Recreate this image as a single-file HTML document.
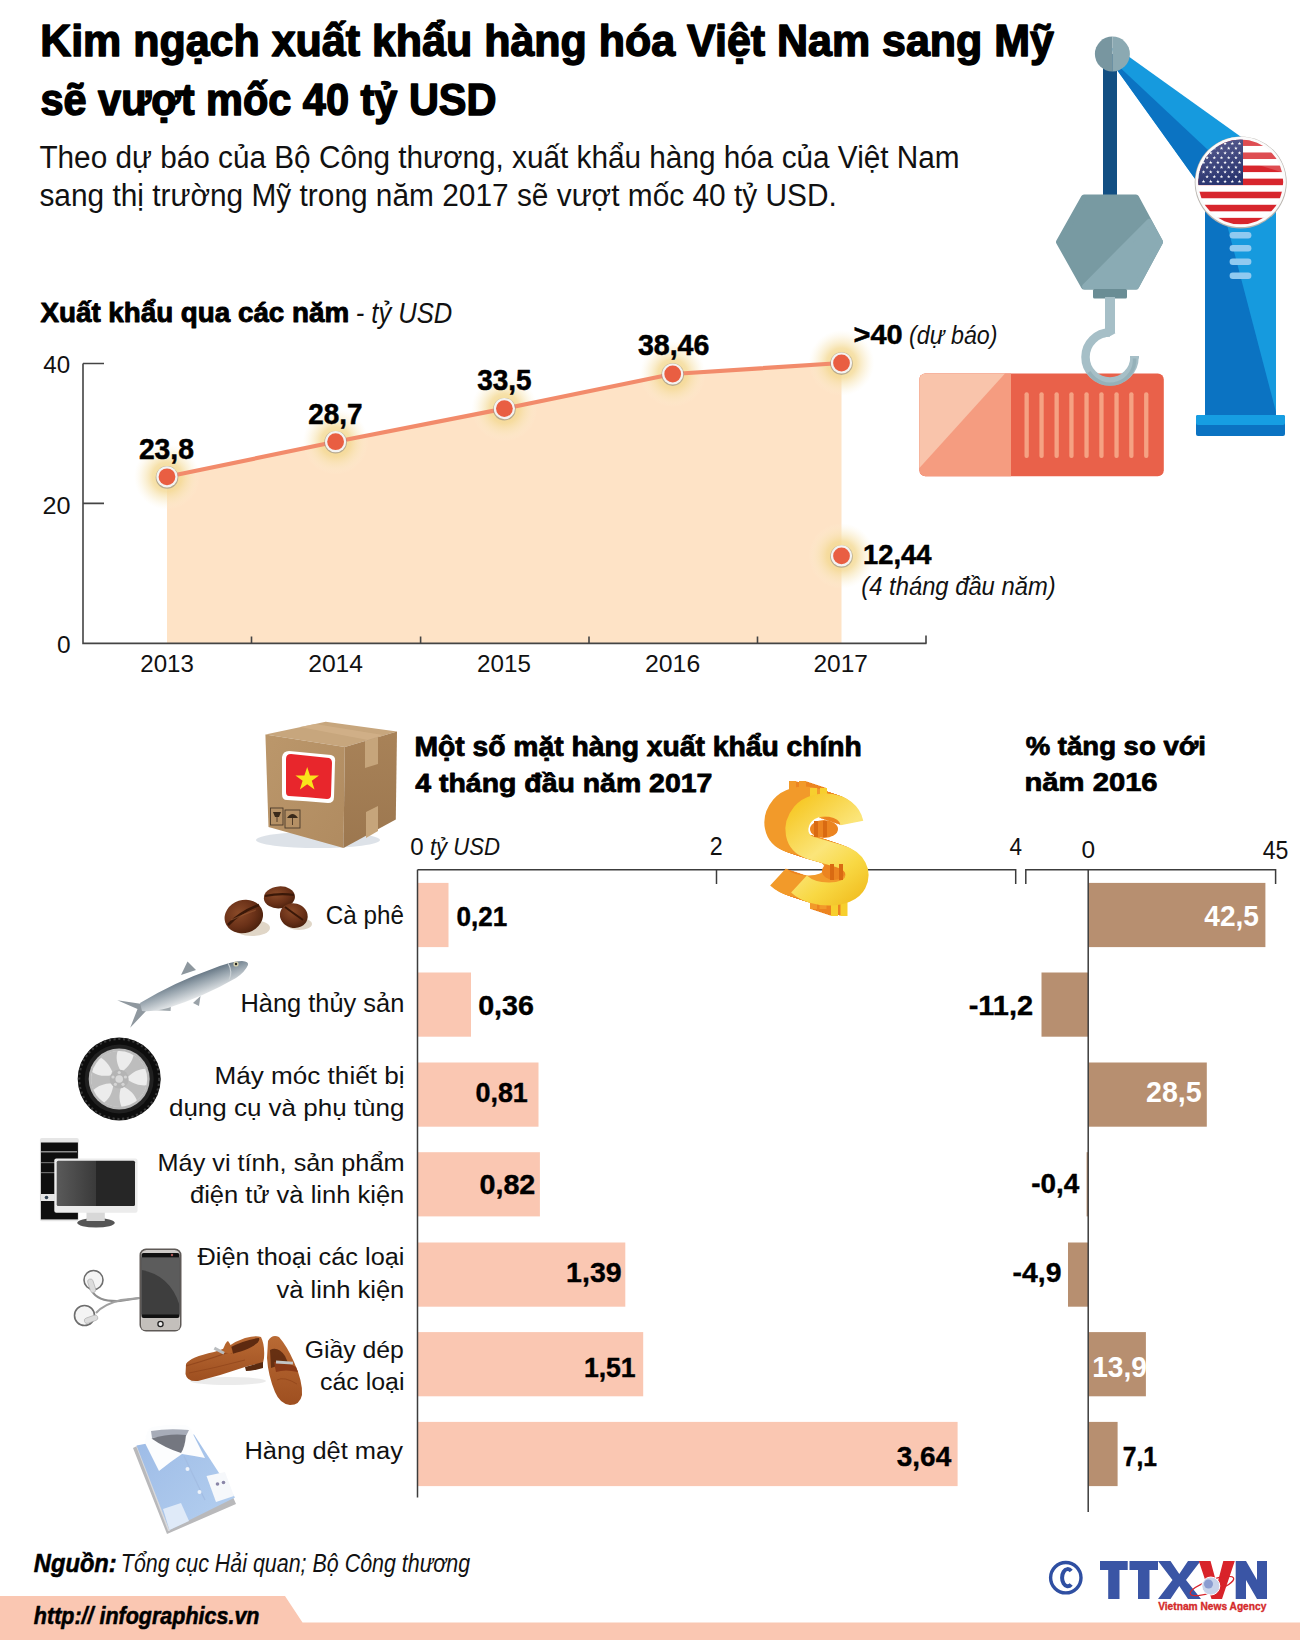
<!DOCTYPE html>
<html><head><meta charset="utf-8"><title>Infographic</title>
<style>
html,body{margin:0;padding:0;background:#fff;}
body{width:1300px;height:1640px;overflow:hidden;position:relative;font-family:"Liberation Sans",sans-serif;}
svg{position:absolute;left:0;top:0;display:block;}
text{font-family:"Liberation Sans",sans-serif;white-space:pre;}
</style></head><body>
<svg width="1300" height="1640" viewBox="0 0 1300 1640">
<defs>
<radialGradient id="glow" cx="0.5" cy="0.5" r="0.5">
 <stop offset="0" stop-color="#f2d47f" stop-opacity="0.95"/>
 <stop offset="0.45" stop-color="#f4da96" stop-opacity="0.8"/>
 <stop offset="0.75" stop-color="#f8e7bb" stop-opacity="0.4"/>
 <stop offset="1" stop-color="#fcf3dc" stop-opacity="0"/>
</radialGradient>
<clipPath id="flagclip"><circle cx="1240.7" cy="181.9" r="42.5"/></clipPath>
<linearGradient id="dollarG" x1="0" y1="0" x2="1" y2="1">
 <stop offset="0" stop-color="#f7c81e"/>
 <stop offset="0.5" stop-color="#fbe77a"/>
 <stop offset="1" stop-color="#f3c524"/>
</linearGradient>
<linearGradient id="fishG" x1="0" y1="0" x2="0" y2="1">
 <stop offset="0" stop-color="#4f6475"/>
 <stop offset="0.5" stop-color="#a9b4bc"/>
 <stop offset="1" stop-color="#e2e5e7"/>
</linearGradient>
<linearGradient id="screenG" x1="0" y1="0" x2="1" y2="0">
 <stop offset="0" stop-color="#5a5a5a"/>
 <stop offset="0.5" stop-color="#3a3a3a"/>
 <stop offset="0.5" stop-color="#262626"/>
 <stop offset="1" stop-color="#262626"/>
</linearGradient>
<linearGradient id="cantonG" x1="0" y1="0" x2="0.3" y2="1">
 <stop offset="0" stop-color="#5c5f92"/>
 <stop offset="1" stop-color="#2b3670"/>
</linearGradient>
</defs>

<polygon points="167.0,476.8 335.6,441.7 504.4,408.6 672.7,374.0 841.5,363.0 841.5,643.4 167,643.4" fill="#fee3c6"/>
<g stroke="#444" stroke-width="1.6" fill="none">
 <path d="M83,363.5 V643.4 H926.5"/>
 <path d="M83,363.5 H104 M83,503.4 H104"/>
 <path d="M251.5,643.4 V636.5 M420.6,643.4 V636.5 M589,643.4 V636.5 M757.5,643.4 V636.5 M926,643.4 V635.5"/>
</g>
<circle cx="167.0" cy="476.8" r="33" fill="url(#glow)"/><circle cx="335.6" cy="441.7" r="33" fill="url(#glow)"/><circle cx="504.4" cy="408.6" r="33" fill="url(#glow)"/><circle cx="672.7" cy="374.0" r="33" fill="url(#glow)"/><circle cx="841.5" cy="363.0" r="33" fill="url(#glow)"/><circle cx="841.5" cy="555.9" r="33" fill="url(#glow)"/>
<path d="M167.0,476.8 L335.6,441.7 L504.4,408.6 L672.7,374.0 L841.5,363.0" stroke="#f28b6b" stroke-width="4.2" fill="none" stroke-linejoin="round"/>
<circle cx="167.0" cy="477.40000000000003" r="11.3" fill="#8f8a86" opacity="0.6"/><circle cx="167.0" cy="476.8" r="10.6" fill="#f4f3f1"/><circle cx="167.0" cy="476.8" r="8.4" fill="#e95e42"/><circle cx="335.6" cy="442.3" r="11.3" fill="#8f8a86" opacity="0.6"/><circle cx="335.6" cy="441.7" r="10.6" fill="#f4f3f1"/><circle cx="335.6" cy="441.7" r="8.4" fill="#e95e42"/><circle cx="504.4" cy="409.20000000000005" r="11.3" fill="#8f8a86" opacity="0.6"/><circle cx="504.4" cy="408.6" r="10.6" fill="#f4f3f1"/><circle cx="504.4" cy="408.6" r="8.4" fill="#e95e42"/><circle cx="672.7" cy="374.6" r="11.3" fill="#8f8a86" opacity="0.6"/><circle cx="672.7" cy="374.0" r="10.6" fill="#f4f3f1"/><circle cx="672.7" cy="374.0" r="8.4" fill="#e95e42"/><circle cx="841.5" cy="363.6" r="11.3" fill="#8f8a86" opacity="0.6"/><circle cx="841.5" cy="363.0" r="10.6" fill="#f4f3f1"/><circle cx="841.5" cy="363.0" r="8.4" fill="#e95e42"/><circle cx="841.5" cy="556.5" r="11.3" fill="#8f8a86" opacity="0.6"/><circle cx="841.5" cy="555.9" r="10.6" fill="#f4f3f1"/><circle cx="841.5" cy="555.9" r="8.4" fill="#e95e42"/>

<!-- boom -->
<polygon points="1112,48 1128,56 1244,139 1198,183 1117,70" fill="#169ade"/>
<polygon points="1112,60 1208,150 1198,183 1117,70" fill="#0b73c2"/>
<!-- pole -->
<rect x="1103" y="54" width="14" height="143" fill="#124f83"/>
<!-- pivot -->
<path d="M1112.4,36.5 A17.5,17.5 0 0 0 1112.4,71.5 Z" fill="#7896a0"/>
<path d="M1112.4,36.5 A17.5,17.5 0 0 1 1112.4,71.5 Z" fill="#8ba9b2"/>
<!-- column -->
<rect x="1205" y="175" width="71" height="241" fill="#0b73c2"/>
<polygon points="1214,175 1276,175 1276,412" fill="#169ade"/>
<g fill="#90caf0">
 <rect x="1229.6" y="232" width="21.8" height="6.4" rx="3.2"/>
 <rect x="1229.6" y="245" width="21.8" height="6.4" rx="3.2"/>
 <rect x="1229.6" y="258.5" width="21.8" height="6.4" rx="3.2"/>
 <rect x="1229.6" y="272.5" width="21.8" height="6.4" rx="3.2"/>
</g>
<rect x="1196" y="415" width="89" height="21" rx="2" fill="#0b73c2"/>
<rect x="1196" y="415" width="89" height="10" rx="2" fill="#169ee2"/>
<!-- flag -->
<circle cx="1240.7" cy="182.4" r="46" fill="#b9b4ae"/>
<circle cx="1240.7" cy="181.9" r="45.2" fill="#fbfbfb"/>
<g clip-path="url(#flagclip)">
 <rect x="1196" y="139" width="90" height="86" fill="#fff"/>
 <rect x="1196" y="139.40" width="90" height="6.54" fill="#d7262d"/><rect x="1196" y="152.48" width="90" height="6.54" fill="#d7262d"/><rect x="1196" y="165.55" width="90" height="6.54" fill="#d7262d"/><rect x="1196" y="178.63" width="90" height="6.54" fill="#d7262d"/><rect x="1196" y="191.71" width="90" height="6.54" fill="#d7262d"/><rect x="1196" y="204.78" width="90" height="6.54" fill="#d7262d"/><rect x="1196" y="217.86" width="90" height="6.54" fill="#d7262d"/>
 <rect x="1196" y="139" width="47" height="46" fill="url(#cantonG)"/>
 <polygon points="1203.50,141.60 1203.95,142.89 1205.31,142.91 1204.22,143.73 1204.62,145.04 1203.50,144.26 1202.38,145.04 1202.78,143.73 1201.69,142.91 1203.05,142.89" fill="#fff"/><polygon points="1210.70,141.60 1211.15,142.89 1212.51,142.91 1211.42,143.73 1211.82,145.04 1210.70,144.26 1209.58,145.04 1209.98,143.73 1208.89,142.91 1210.25,142.89" fill="#fff"/><polygon points="1217.90,141.60 1218.35,142.89 1219.71,142.91 1218.62,143.73 1219.02,145.04 1217.90,144.26 1216.78,145.04 1217.18,143.73 1216.09,142.91 1217.45,142.89" fill="#fff"/><polygon points="1225.10,141.60 1225.55,142.89 1226.91,142.91 1225.82,143.73 1226.22,145.04 1225.10,144.26 1223.98,145.04 1224.38,143.73 1223.29,142.91 1224.65,142.89" fill="#fff"/><polygon points="1232.30,141.60 1232.75,142.89 1234.11,142.91 1233.02,143.73 1233.42,145.04 1232.30,144.26 1231.18,145.04 1231.58,143.73 1230.49,142.91 1231.85,142.89" fill="#fff"/><polygon points="1239.50,141.60 1239.95,142.89 1241.31,142.91 1240.22,143.73 1240.62,145.04 1239.50,144.26 1238.38,145.04 1238.78,143.73 1237.69,142.91 1239.05,142.89" fill="#fff"/><polygon points="1207.10,146.35 1207.55,147.64 1208.91,147.66 1207.82,148.48 1208.22,149.79 1207.10,149.01 1205.98,149.79 1206.38,148.48 1205.29,147.66 1206.65,147.64" fill="#fff"/><polygon points="1214.30,146.35 1214.75,147.64 1216.11,147.66 1215.02,148.48 1215.42,149.79 1214.30,149.01 1213.18,149.79 1213.58,148.48 1212.49,147.66 1213.85,147.64" fill="#fff"/><polygon points="1221.50,146.35 1221.95,147.64 1223.31,147.66 1222.22,148.48 1222.62,149.79 1221.50,149.01 1220.38,149.79 1220.78,148.48 1219.69,147.66 1221.05,147.64" fill="#fff"/><polygon points="1228.70,146.35 1229.15,147.64 1230.51,147.66 1229.42,148.48 1229.82,149.79 1228.70,149.01 1227.58,149.79 1227.98,148.48 1226.89,147.66 1228.25,147.64" fill="#fff"/><polygon points="1235.90,146.35 1236.35,147.64 1237.71,147.66 1236.62,148.48 1237.02,149.79 1235.90,149.01 1234.78,149.79 1235.18,148.48 1234.09,147.66 1235.45,147.64" fill="#fff"/><polygon points="1203.50,151.10 1203.95,152.39 1205.31,152.41 1204.22,153.23 1204.62,154.54 1203.50,153.76 1202.38,154.54 1202.78,153.23 1201.69,152.41 1203.05,152.39" fill="#fff"/><polygon points="1210.70,151.10 1211.15,152.39 1212.51,152.41 1211.42,153.23 1211.82,154.54 1210.70,153.76 1209.58,154.54 1209.98,153.23 1208.89,152.41 1210.25,152.39" fill="#fff"/><polygon points="1217.90,151.10 1218.35,152.39 1219.71,152.41 1218.62,153.23 1219.02,154.54 1217.90,153.76 1216.78,154.54 1217.18,153.23 1216.09,152.41 1217.45,152.39" fill="#fff"/><polygon points="1225.10,151.10 1225.55,152.39 1226.91,152.41 1225.82,153.23 1226.22,154.54 1225.10,153.76 1223.98,154.54 1224.38,153.23 1223.29,152.41 1224.65,152.39" fill="#fff"/><polygon points="1232.30,151.10 1232.75,152.39 1234.11,152.41 1233.02,153.23 1233.42,154.54 1232.30,153.76 1231.18,154.54 1231.58,153.23 1230.49,152.41 1231.85,152.39" fill="#fff"/><polygon points="1239.50,151.10 1239.95,152.39 1241.31,152.41 1240.22,153.23 1240.62,154.54 1239.50,153.76 1238.38,154.54 1238.78,153.23 1237.69,152.41 1239.05,152.39" fill="#fff"/><polygon points="1207.10,155.85 1207.55,157.14 1208.91,157.16 1207.82,157.98 1208.22,159.29 1207.10,158.51 1205.98,159.29 1206.38,157.98 1205.29,157.16 1206.65,157.14" fill="#fff"/><polygon points="1214.30,155.85 1214.75,157.14 1216.11,157.16 1215.02,157.98 1215.42,159.29 1214.30,158.51 1213.18,159.29 1213.58,157.98 1212.49,157.16 1213.85,157.14" fill="#fff"/><polygon points="1221.50,155.85 1221.95,157.14 1223.31,157.16 1222.22,157.98 1222.62,159.29 1221.50,158.51 1220.38,159.29 1220.78,157.98 1219.69,157.16 1221.05,157.14" fill="#fff"/><polygon points="1228.70,155.85 1229.15,157.14 1230.51,157.16 1229.42,157.98 1229.82,159.29 1228.70,158.51 1227.58,159.29 1227.98,157.98 1226.89,157.16 1228.25,157.14" fill="#fff"/><polygon points="1235.90,155.85 1236.35,157.14 1237.71,157.16 1236.62,157.98 1237.02,159.29 1235.90,158.51 1234.78,159.29 1235.18,157.98 1234.09,157.16 1235.45,157.14" fill="#fff"/><polygon points="1203.50,160.60 1203.95,161.89 1205.31,161.91 1204.22,162.73 1204.62,164.04 1203.50,163.26 1202.38,164.04 1202.78,162.73 1201.69,161.91 1203.05,161.89" fill="#fff"/><polygon points="1210.70,160.60 1211.15,161.89 1212.51,161.91 1211.42,162.73 1211.82,164.04 1210.70,163.26 1209.58,164.04 1209.98,162.73 1208.89,161.91 1210.25,161.89" fill="#fff"/><polygon points="1217.90,160.60 1218.35,161.89 1219.71,161.91 1218.62,162.73 1219.02,164.04 1217.90,163.26 1216.78,164.04 1217.18,162.73 1216.09,161.91 1217.45,161.89" fill="#fff"/><polygon points="1225.10,160.60 1225.55,161.89 1226.91,161.91 1225.82,162.73 1226.22,164.04 1225.10,163.26 1223.98,164.04 1224.38,162.73 1223.29,161.91 1224.65,161.89" fill="#fff"/><polygon points="1232.30,160.60 1232.75,161.89 1234.11,161.91 1233.02,162.73 1233.42,164.04 1232.30,163.26 1231.18,164.04 1231.58,162.73 1230.49,161.91 1231.85,161.89" fill="#fff"/><polygon points="1239.50,160.60 1239.95,161.89 1241.31,161.91 1240.22,162.73 1240.62,164.04 1239.50,163.26 1238.38,164.04 1238.78,162.73 1237.69,161.91 1239.05,161.89" fill="#fff"/><polygon points="1207.10,165.35 1207.55,166.64 1208.91,166.66 1207.82,167.48 1208.22,168.79 1207.10,168.01 1205.98,168.79 1206.38,167.48 1205.29,166.66 1206.65,166.64" fill="#fff"/><polygon points="1214.30,165.35 1214.75,166.64 1216.11,166.66 1215.02,167.48 1215.42,168.79 1214.30,168.01 1213.18,168.79 1213.58,167.48 1212.49,166.66 1213.85,166.64" fill="#fff"/><polygon points="1221.50,165.35 1221.95,166.64 1223.31,166.66 1222.22,167.48 1222.62,168.79 1221.50,168.01 1220.38,168.79 1220.78,167.48 1219.69,166.66 1221.05,166.64" fill="#fff"/><polygon points="1228.70,165.35 1229.15,166.64 1230.51,166.66 1229.42,167.48 1229.82,168.79 1228.70,168.01 1227.58,168.79 1227.98,167.48 1226.89,166.66 1228.25,166.64" fill="#fff"/><polygon points="1235.90,165.35 1236.35,166.64 1237.71,166.66 1236.62,167.48 1237.02,168.79 1235.90,168.01 1234.78,168.79 1235.18,167.48 1234.09,166.66 1235.45,166.64" fill="#fff"/><polygon points="1203.50,170.10 1203.95,171.39 1205.31,171.41 1204.22,172.23 1204.62,173.54 1203.50,172.76 1202.38,173.54 1202.78,172.23 1201.69,171.41 1203.05,171.39" fill="#fff"/><polygon points="1210.70,170.10 1211.15,171.39 1212.51,171.41 1211.42,172.23 1211.82,173.54 1210.70,172.76 1209.58,173.54 1209.98,172.23 1208.89,171.41 1210.25,171.39" fill="#fff"/><polygon points="1217.90,170.10 1218.35,171.39 1219.71,171.41 1218.62,172.23 1219.02,173.54 1217.90,172.76 1216.78,173.54 1217.18,172.23 1216.09,171.41 1217.45,171.39" fill="#fff"/><polygon points="1225.10,170.10 1225.55,171.39 1226.91,171.41 1225.82,172.23 1226.22,173.54 1225.10,172.76 1223.98,173.54 1224.38,172.23 1223.29,171.41 1224.65,171.39" fill="#fff"/><polygon points="1232.30,170.10 1232.75,171.39 1234.11,171.41 1233.02,172.23 1233.42,173.54 1232.30,172.76 1231.18,173.54 1231.58,172.23 1230.49,171.41 1231.85,171.39" fill="#fff"/><polygon points="1239.50,170.10 1239.95,171.39 1241.31,171.41 1240.22,172.23 1240.62,173.54 1239.50,172.76 1238.38,173.54 1238.78,172.23 1237.69,171.41 1239.05,171.39" fill="#fff"/><polygon points="1207.10,174.85 1207.55,176.14 1208.91,176.16 1207.82,176.98 1208.22,178.29 1207.10,177.51 1205.98,178.29 1206.38,176.98 1205.29,176.16 1206.65,176.14" fill="#fff"/><polygon points="1214.30,174.85 1214.75,176.14 1216.11,176.16 1215.02,176.98 1215.42,178.29 1214.30,177.51 1213.18,178.29 1213.58,176.98 1212.49,176.16 1213.85,176.14" fill="#fff"/><polygon points="1221.50,174.85 1221.95,176.14 1223.31,176.16 1222.22,176.98 1222.62,178.29 1221.50,177.51 1220.38,178.29 1220.78,176.98 1219.69,176.16 1221.05,176.14" fill="#fff"/><polygon points="1228.70,174.85 1229.15,176.14 1230.51,176.16 1229.42,176.98 1229.82,178.29 1228.70,177.51 1227.58,178.29 1227.98,176.98 1226.89,176.16 1228.25,176.14" fill="#fff"/><polygon points="1235.90,174.85 1236.35,176.14 1237.71,176.16 1236.62,176.98 1237.02,178.29 1235.90,177.51 1234.78,178.29 1235.18,176.98 1234.09,176.16 1235.45,176.14" fill="#fff"/><polygon points="1203.50,179.60 1203.95,180.89 1205.31,180.91 1204.22,181.73 1204.62,183.04 1203.50,182.26 1202.38,183.04 1202.78,181.73 1201.69,180.91 1203.05,180.89" fill="#fff"/><polygon points="1210.70,179.60 1211.15,180.89 1212.51,180.91 1211.42,181.73 1211.82,183.04 1210.70,182.26 1209.58,183.04 1209.98,181.73 1208.89,180.91 1210.25,180.89" fill="#fff"/><polygon points="1217.90,179.60 1218.35,180.89 1219.71,180.91 1218.62,181.73 1219.02,183.04 1217.90,182.26 1216.78,183.04 1217.18,181.73 1216.09,180.91 1217.45,180.89" fill="#fff"/><polygon points="1225.10,179.60 1225.55,180.89 1226.91,180.91 1225.82,181.73 1226.22,183.04 1225.10,182.26 1223.98,183.04 1224.38,181.73 1223.29,180.91 1224.65,180.89" fill="#fff"/><polygon points="1232.30,179.60 1232.75,180.89 1234.11,180.91 1233.02,181.73 1233.42,183.04 1232.30,182.26 1231.18,183.04 1231.58,181.73 1230.49,180.91 1231.85,180.89" fill="#fff"/><polygon points="1239.50,179.60 1239.95,180.89 1241.31,180.91 1240.22,181.73 1240.62,183.04 1239.50,182.26 1238.38,183.04 1238.78,181.73 1237.69,180.91 1239.05,180.89" fill="#fff"/>
 <polygon points="1243,139 1290,139 1290,175 1243,160" fill="#fff" opacity="0.18"/>
</g>
<!-- hexagon block -->
<polygon points="1084,197.5 1136,197.5 1160,242 1136,286.5 1084,286.5 1059,242" fill="#789aa2" stroke="#789aa2" stroke-width="6" stroke-linejoin="round"/>
<polygon points="1085,286.5 1149,222 1160,242 1136,286.5" fill="#8aabb4" stroke="#8aabb4" stroke-width="6" stroke-linejoin="round"/>
<rect x="1093" y="289" width="34" height="9.5" rx="1.5" fill="#6a8d95"/>
<!-- container -->
<rect x="919.4" y="373.4" width="244.4" height="102.9" rx="6" fill="#e9614a"/>
<path d="M1011,373.4 H925.4 A6,6 0 0 0 919.4,379.4 V470.3 A6,6 0 0 0 925.4,476.3 H1011 Z" fill="#f59c80"/>
<path d="M1005,373.4 H925.4 A6,6 0 0 0 919.4,379.4 V468 Z" fill="#f9c4ab"/>
<rect x="1024.5" y="392.3" width="4.3" height="65.7" rx="2" fill="#f5a283"/><rect x="1039.4" y="392.3" width="4.3" height="65.7" rx="2" fill="#f5a283"/><rect x="1054.5" y="392.3" width="4.3" height="65.7" rx="2" fill="#f5a283"/><rect x="1069.3" y="392.3" width="4.3" height="65.7" rx="2" fill="#f5a283"/><rect x="1084.4" y="392.3" width="4.3" height="65.7" rx="2" fill="#f5a283"/><rect x="1099.3" y="392.3" width="4.3" height="65.7" rx="2" fill="#f5a283"/><rect x="1114.4" y="392.3" width="4.3" height="65.7" rx="2" fill="#f5a283"/><rect x="1129.2" y="392.3" width="4.3" height="65.7" rx="2" fill="#f5a283"/><rect x="1144.1" y="392.3" width="4.3" height="65.7" rx="2" fill="#f5a283"/>
<!-- hook -->
<rect x="1105" y="297" width="10" height="36" fill="#a6bfc7"/>
<path d="M1113,330 Q1109,333 1104,333.5" stroke="#a6bfc7" stroke-width="8" fill="none"/>
<path d="M1110,332.5 A24.5,24.5 0 1 0 1134.5,357" stroke="#a6bfc7" stroke-width="8.5" fill="none"/>
<path d="M1089,372 A24.5,24.5 0 0 0 1134.5,357" stroke="#8eabb4" stroke-width="3.5" fill="none" opacity="0.7"/>
<rect x="1130" y="356" width="9" height="2.5" fill="#a6bfc7"/>

<rect x="417.5" y="882.9" width="31.0" height="64.2" fill="#fac7b2"/><rect x="417.5" y="972.5" width="53.5" height="64.2" fill="#fac7b2"/><rect x="417.5" y="1062.5" width="121.0" height="64.2" fill="#fac7b2"/><rect x="417.5" y="1152.2" width="122.4" height="64.2" fill="#fac7b2"/><rect x="417.5" y="1242.5" width="207.8" height="64.2" fill="#fac7b2"/><rect x="417.5" y="1332.1" width="225.7" height="64.2" fill="#fac7b2"/><rect x="417.5" y="1421.9" width="540.1" height="64.2" fill="#fac7b2"/><rect x="1088.2" y="882.9" width="177.2" height="64.2" fill="#b78f70"/><rect x="1041.5" y="972.5" width="46.7" height="64.2" fill="#b78f70"/><rect x="1088.2" y="1062.5" width="118.6" height="64.2" fill="#b78f70"/><rect x="1086.6" y="1152.2" width="1.6" height="64.2" fill="#b78f70"/><rect x="1068" y="1242.5" width="20.2" height="64.2" fill="#b78f70"/><rect x="1088.2" y="1332.1" width="57.7" height="64.2" fill="#b78f70"/><rect x="1088.2" y="1421.9" width="29.4" height="64.2" fill="#b78f70"/>
<g stroke="#3c3c3c" stroke-width="1.5" fill="none">
 <path d="M417.5,869.7 H1015.7 V884"/>
 <path d="M417.5,869.7 V1497.5"/>
 <path d="M716.5,869.7 V884"/>
 <path d="M1025.8,884 V869.7 H1275.6 V884"/>
 <path d="M1088.2,869.7 V1512"/>
</g>

<polygon points="0,1596 285,1596 302.5,1622.5 1300,1622.5 1300,1640 0,1640" fill="#fac7b2"/>
<circle cx="1065.8" cy="1577.7" r="15.2" stroke="#2f4fa2" stroke-width="3.4" fill="none"/>
<path d="M1071.2,1571 A5.6,8.6 0 1 0 1071.2,1584.4" stroke="#2f4fa2" stroke-width="4" fill="none"/>

<linearGradient id="boxFront" x1="0" y1="0" x2="1" y2="1">
 <stop offset="0" stop-color="#bb976b"/>
 <stop offset="1" stop-color="#b08b60"/>
</linearGradient>
<linearGradient id="boxRight" x1="0" y1="0" x2="0" y2="1">
 <stop offset="0" stop-color="#a88258"/>
 <stop offset="1" stop-color="#9c774f"/>
</linearGradient>
<ellipse cx="318" cy="840" rx="62" ry="8" fill="#cfd6de" opacity="0.7"/>
<polygon points="265.4,734.6 325.7,721.7 397,731.5 344.8,747" fill="#c7a67d"/>
<polygon points="300,727 315,724 383,735 368,740" fill="#d2b28a" opacity="0.8"/>
<polygon points="265.4,734.6 344.8,747 343.5,848 268.5,827" fill="url(#boxFront)"/>
<polygon points="344.8,747 397,731.5 395.8,819.5 343.5,848" fill="url(#boxRight)"/>
<polygon points="365,741 378,737 378,764 365,768" fill="#c6a57b"/>
<polygon points="366,812 378,806 378,831 366,838" fill="#c6a57b"/>
<path d="M289,751 Q310,753 331,755 Q336,756 335,762 L334,797 Q334,803 328,803 Q306,801 287,800 Q282,800 282,794 L282,757 Q283,751 289,751 Z" fill="#fff"/>
<path d="M291,754 Q310,756 329,758 Q332,759 332,763 L331,795 Q331,799 327,799 Q307,797 289,796 Q286,796 286,792 L286,759 Q286,754 291,754 Z" fill="#e8262c"/>
<polygon points="307.2,767 310,775.5 319,775.5 311.8,780.8 314.5,789.5 307.2,784.2 299.9,789.5 302.6,780.8 295.4,775.5 304.4,775.5" fill="#f9e31b"/>
<rect x="270.5" y="808" width="12.5" height="17" fill="none" stroke="#4a3a2a" stroke-width="0.9"/>
<rect x="285" y="810" width="15" height="18" fill="none" stroke="#4a3a2a" stroke-width="0.9"/>
<path d="M287,818 Q292.5,810 298,818 Z" fill="#3a2a1a"/>
<path d="M292.5,818 V825" stroke="#3a2a1a" stroke-width="0.8"/>
<path d="M273,812 h8 l-2,5 h-4 z" fill="#3a2a1a"/>
<path d="M277,817 V822" stroke="#3a2a1a" stroke-width="0.8"/>

<linearGradient id="dollarG2" gradientUnits="userSpaceOnUse" x1="790" y1="800" x2="870" y2="900">
 <stop offset="0" stop-color="#f6c51c"/>
 <stop offset="0.45" stop-color="#fbe57a"/>
 <stop offset="0.7" stop-color="#f8d843"/>
 <stop offset="1" stop-color="#f0b91a"/>
</linearGradient>
<g>
<g transform="translate(-1.5 -0.5)"><path d="M852,823 C848,803 816,799 803,814 C793,826 795,843 811,848 L839,856 C856,861 860,873 855,883 C848,897 814,898 799,884" stroke="#ec8420" stroke-width="23" fill="none"/><path d="M813.5,788 L813.5,808 M823.5,788 L823.5,808 M834.5,896 L834.5,916 M844,896 L844,916" stroke="#ec8420" stroke-width="7" fill="none"/></g><g transform="translate(-3.0 -1.0)"><path d="M852,823 C848,803 816,799 803,814 C793,826 795,843 811,848 L839,856 C856,861 860,873 855,883 C848,897 814,898 799,884" stroke="#ec8420" stroke-width="23" fill="none"/><path d="M813.5,788 L813.5,808 M823.5,788 L823.5,808 M834.5,896 L834.5,916 M844,896 L844,916" stroke="#ec8420" stroke-width="7" fill="none"/></g><g transform="translate(-4.5 -1.5)"><path d="M852,823 C848,803 816,799 803,814 C793,826 795,843 811,848 L839,856 C856,861 860,873 855,883 C848,897 814,898 799,884" stroke="#ec8420" stroke-width="23" fill="none"/><path d="M813.5,788 L813.5,808 M823.5,788 L823.5,808 M834.5,896 L834.5,916 M844,896 L844,916" stroke="#ec8420" stroke-width="7" fill="none"/></g><g transform="translate(-6.0 -2.0)"><path d="M852,823 C848,803 816,799 803,814 C793,826 795,843 811,848 L839,856 C856,861 860,873 855,883 C848,897 814,898 799,884" stroke="#ec8420" stroke-width="23" fill="none"/><path d="M813.5,788 L813.5,808 M823.5,788 L823.5,808 M834.5,896 L834.5,916 M844,896 L844,916" stroke="#ec8420" stroke-width="7" fill="none"/></g><g transform="translate(-7.5 -2.5)"><path d="M852,823 C848,803 816,799 803,814 C793,826 795,843 811,848 L839,856 C856,861 860,873 855,883 C848,897 814,898 799,884" stroke="#ec8420" stroke-width="23" fill="none"/><path d="M813.5,788 L813.5,808 M823.5,788 L823.5,808 M834.5,896 L834.5,916 M844,896 L844,916" stroke="#ec8420" stroke-width="7" fill="none"/></g><g transform="translate(-9.0 -3.0)"><path d="M852,823 C848,803 816,799 803,814 C793,826 795,843 811,848 L839,856 C856,861 860,873 855,883 C848,897 814,898 799,884" stroke="#ec8420" stroke-width="23" fill="none"/><path d="M813.5,788 L813.5,808 M823.5,788 L823.5,808 M834.5,896 L834.5,916 M844,896 L844,916" stroke="#ec8420" stroke-width="7" fill="none"/></g><g transform="translate(-10.5 -3.5)"><path d="M852,823 C848,803 816,799 803,814 C793,826 795,843 811,848 L839,856 C856,861 860,873 855,883 C848,897 814,898 799,884" stroke="#ec8420" stroke-width="23" fill="none"/><path d="M813.5,788 L813.5,808 M823.5,788 L823.5,808 M834.5,896 L834.5,916 M844,896 L844,916" stroke="#ec8420" stroke-width="7" fill="none"/></g><g transform="translate(-12.0 -4.0)"><path d="M852,823 C848,803 816,799 803,814 C793,826 795,843 811,848 L839,856 C856,861 860,873 855,883 C848,897 814,898 799,884" stroke="#ec8420" stroke-width="23" fill="none"/><path d="M813.5,788 L813.5,808 M823.5,788 L823.5,808 M834.5,896 L834.5,916 M844,896 L844,916" stroke="#ec8420" stroke-width="7" fill="none"/></g><g transform="translate(-13.5 -4.5)"><path d="M852,823 C848,803 816,799 803,814 C793,826 795,843 811,848 L839,856 C856,861 860,873 855,883 C848,897 814,898 799,884" stroke="#ec8420" stroke-width="23" fill="none"/><path d="M813.5,788 L813.5,808 M823.5,788 L823.5,808 M834.5,896 L834.5,916 M844,896 L844,916" stroke="#ec8420" stroke-width="7" fill="none"/></g><g transform="translate(-15.0 -5.0)"><path d="M852,823 C848,803 816,799 803,814 C793,826 795,843 811,848 L839,856 C856,861 860,873 855,883 C848,897 814,898 799,884" stroke="#ec8420" stroke-width="23" fill="none"/><path d="M813.5,788 L813.5,808 M823.5,788 L823.5,808 M834.5,896 L834.5,916 M844,896 L844,916" stroke="#ec8420" stroke-width="7" fill="none"/></g><g transform="translate(-16.5 -5.5)"><path d="M852,823 C848,803 816,799 803,814 C793,826 795,843 811,848 L839,856 C856,861 860,873 855,883 C848,897 814,898 799,884" stroke="#ec8420" stroke-width="23" fill="none"/><path d="M813.5,788 L813.5,808 M823.5,788 L823.5,808 M834.5,896 L834.5,916 M844,896 L844,916" stroke="#ec8420" stroke-width="7" fill="none"/></g><g transform="translate(-18.0 -6.0)"><path d="M852,823 C848,803 816,799 803,814 C793,826 795,843 811,848 L839,856 C856,861 860,873 855,883 C848,897 814,898 799,884" stroke="#ec8420" stroke-width="23" fill="none"/><path d="M813.5,788 L813.5,808 M823.5,788 L823.5,808 M834.5,896 L834.5,916 M844,896 L844,916" stroke="#ec8420" stroke-width="7" fill="none"/></g><g transform="translate(-19.5 -6.5)"><path d="M852,823 C848,803 816,799 803,814 C793,826 795,843 811,848 L839,856 C856,861 860,873 855,883 C848,897 814,898 799,884" stroke="#ec8420" stroke-width="23" fill="none"/><path d="M813.5,788 L813.5,808 M823.5,788 L823.5,808 M834.5,896 L834.5,916 M844,896 L844,916" stroke="#ec8420" stroke-width="7" fill="none"/></g><g transform="translate(-21.0 -7.0)"><path d="M852,823 C848,803 816,799 803,814 C793,826 795,843 811,848 L839,856 C856,861 860,873 855,883 C848,897 814,898 799,884" stroke="#f29a2a" stroke-width="23" fill="none"/><path d="M813.5,788 L813.5,808 M823.5,788 L823.5,808 M834.5,896 L834.5,916 M844,896 L844,916" stroke="#f29a2a" stroke-width="7" fill="none"/></g>
<path d="M813.5,788 L813.5,808 M823.5,788 L823.5,808 M834.5,896 L834.5,916 M844,896 L844,916" stroke="#f7cf2e" stroke-width="7" fill="none"/>
<ellipse cx="824" cy="829" rx="14" ry="9" fill="#ec8420"/>
<ellipse cx="834" cy="871" rx="12" ry="9" fill="#ec8420"/>
<path d="M852,823 C848,803 816,799 803,814 C793,826 795,843 811,848 L839,856 C856,861 860,873 855,883 C848,897 814,898 799,884" stroke="url(#dollarG2)" stroke-width="23" fill="none"/>
<path d="M816,821 L816,837 M825,821 L825,837 M832,864 L832,880 M841,864 L841,880" stroke="#d96a12" stroke-width="4" fill="none"/>
</g>

<radialGradient id="beanG" cx="0.4" cy="0.35" r="0.7">
 <stop offset="0" stop-color="#8a4a28"/>
 <stop offset="0.6" stop-color="#6a3118"/>
 <stop offset="1" stop-color="#4a200c"/>
</radialGradient>
<ellipse cx="252" cy="928" rx="18" ry="8" fill="#d6c8b4" opacity="0.75"/>
<ellipse cx="299" cy="924" rx="13" ry="6" fill="#d6c8b4" opacity="0.75"/>
<ellipse cx="243.8" cy="916.5" rx="19.5" ry="16.5" transform="rotate(-18 243.8 916.5)" fill="url(#beanG)"/>
<path d="M228,925 Q240,912 259,905" stroke="#3a1808" stroke-width="2.6" fill="none"/>
<path d="M231,920 Q244,914 256,910" stroke="#9a5a34" stroke-width="1.2" fill="none" opacity="0.6"/>
<ellipse cx="279.4" cy="897.4" rx="15.6" ry="11" transform="rotate(-5 279.4 897.4)" fill="url(#beanG)"/>
<path d="M265,896 Q280,893 294,895" stroke="#3a1808" stroke-width="2.2" fill="none"/>
<ellipse cx="293.8" cy="915.6" rx="14" ry="12.3" transform="rotate(15 293.8 915.6)" fill="url(#beanG)"/>
<path d="M285,907 Q293,913 303,920" stroke="#3a1808" stroke-width="2" fill="none"/>

<linearGradient id="fishG2" gradientUnits="userSpaceOnUse" x1="190" y1="972" x2="199" y2="997">
 <stop offset="0" stop-color="#4e6070"/>
 <stop offset="0.45" stop-color="#93a0aa"/>
 <stop offset="1" stop-color="#e4e7e9"/>
</linearGradient>
<polygon points="181,975 187.5,961.5 196,970" fill="#8d979e"/>
<polygon points="142,1004 117.3,1000.2 137.5,1009 130.2,1027.7 146,1011" fill="#8f989f"/>
<polygon points="193,1003 200.5,996 199,1006" fill="#9aa2a8"/>
<polygon points="152,1010 171,1004 170.6,1011" fill="#a0a8ad"/>
<path d="M140,1003 Q175,982 212,969 Q232,961 242,961 Q249,961.5 248,965 Q245,972 236,978 Q205,996 168,1008 Q152,1012 142,1011 Z" fill="url(#fishG2)"/>
<path d="M228,963 Q233,972 229,980" stroke="#c9d0d4" stroke-width="1.2" fill="none"/>
<circle cx="236" cy="964" r="2.6" fill="#d7d3b0"/>
<circle cx="236" cy="964" r="1.2" fill="#222"/>

<circle cx="119.2" cy="1079" r="41.5" fill="#0d0d0d"/>
<circle cx="119.2" cy="1079" r="40" fill="none" stroke="#3a3a3a" stroke-width="2.2" stroke-dasharray="2.2 2.6"/>
<circle cx="119.2" cy="1079" r="34.5" fill="#202020"/>
<circle cx="119.2" cy="1079" r="30.5" fill="#b9b9b9"/>
<circle cx="119.2" cy="1079" r="28" fill="#ececec"/>
<g fill="#bdbdbd" transform="translate(119.2 1079)">
 <path d="M-4,-7 C-4,-16 -6,-21 -10,-26.2 A28,28 0 0 1 8,-26.8 C4,-21 3,-16 4,-7 Z" transform="rotate(-20)"/>
 <path d="M-4,-7 C-4,-16 -6,-21 -10,-26.2 A28,28 0 0 1 8,-26.8 C4,-21 3,-16 4,-7 Z" transform="rotate(52)"/>
 <path d="M-4,-7 C-4,-16 -6,-21 -10,-26.2 A28,28 0 0 1 8,-26.8 C4,-21 3,-16 4,-7 Z" transform="rotate(124)"/>
 <path d="M-4,-7 C-4,-16 -6,-21 -10,-26.2 A28,28 0 0 1 8,-26.8 C4,-21 3,-16 4,-7 Z" transform="rotate(196)"/>
 <path d="M-4,-7 C-4,-16 -6,-21 -10,-26.2 A28,28 0 0 1 8,-26.8 C4,-21 3,-16 4,-7 Z" transform="rotate(268)"/>
 <circle r="9.5" fill="#b4b4b4"/>
 <circle r="3.8" fill="#dadada"/>
 <circle cx="0" cy="-6.5" r="1.6" fill="#d5d5d5"/>
 <circle cx="6.2" cy="-2" r="1.6" fill="#d5d5d5"/>
 <circle cx="3.8" cy="5.3" r="1.6" fill="#d5d5d5"/>
 <circle cx="-3.8" cy="5.3" r="1.6" fill="#d5d5d5"/>
 <circle cx="-6.2" cy="-2" r="1.6" fill="#d5d5d5"/>
</g>

<rect x="39.9" y="1138" width="38.9" height="83.3" rx="2" fill="#e6e6e6"/>
<rect x="40.9" y="1142.5" width="37" height="76.9" fill="#0e0e0e"/>
<rect x="41" y="1151" width="36" height="1.5" fill="#8a8a8a"/>
<rect x="41" y="1162" width="36" height="1.2" fill="#6a6a6a"/>
<rect x="41" y="1172" width="36" height="1.2" fill="#6a6a6a"/>
<rect x="40.9" y="1194" width="14" height="7" fill="#e6e6e6"/>
<circle cx="46.5" cy="1197.5" r="1.8" fill="#345"/>
<ellipse cx="96" cy="1222.8" rx="18.75" ry="4.8" fill="#555"/>
<rect x="86.5" y="1212" width="18.3" height="9" fill="#d8d8d8"/>
<rect x="54.3" y="1158.4" width="83.2" height="54.3" rx="2" fill="#ececec"/>
<rect x="56.7" y="1160.8" width="78.3" height="45.2" rx="1.5" fill="url(#screenG)"/>

<path d="M92,1291 Q98,1302 120,1301 L139.5,1298" stroke="#8f8f8f" stroke-width="2.2" fill="none"/>
<path d="M96,1313 Q104,1304 121,1300 L139.5,1298" stroke="#a0a0a0" stroke-width="2.2" fill="none"/>
<circle cx="93.5" cy="1280" r="9.5" fill="#f4f4f4" stroke="#6d6d6d" stroke-width="1.6"/>
<rect x="89" y="1279" width="5.5" height="14" rx="2.7" fill="#dcdcdc" stroke="#aaa" stroke-width="0.6" transform="rotate(-18 91 1286)"/>
<circle cx="84.5" cy="1315.5" r="10" fill="#f4f4f4" stroke="#6d6d6d" stroke-width="1.6"/>
<rect x="84" y="1316.5" width="14" height="5.5" rx="2.7" fill="#dcdcdc" stroke="#aaa" stroke-width="0.6" transform="rotate(-20 91 1319)"/>
<rect x="139.5" y="1248.5" width="42" height="83" rx="6.5" fill="#5e5956"/>
<rect x="141" y="1250" width="39" height="80" rx="5.5" fill="#cfcbc8"/>
<rect x="141.5" y="1253" width="38" height="65" rx="2" fill="#111"/>
<rect x="141.5" y="1257.5" width="38" height="57" fill="#3e3e3e"/>
<path d="M141.5,1270 Q170,1275 179.5,1305 V1257.5 H141.5 Z" fill="#5c5c5c"/>
<circle cx="172" cy="1255" r="1.2" fill="#a55"/>
<rect x="141.5" y="1318" width="38" height="12" rx="3" fill="#c3bfbb"/>
<circle cx="160.5" cy="1324" r="2.6" fill="#f0f0f0" stroke="#222" stroke-width="1.3"/>

<linearGradient id="shoeG" x1="0" y1="0" x2="0" y2="1">
 <stop offset="0" stop-color="#b96a34"/>
 <stop offset="1" stop-color="#9e4f20"/>
</linearGradient>
<ellipse cx="228" cy="1381" rx="38" ry="4" fill="#e6e6e6" opacity="0.8"/>
<path d="M186,1364 Q190,1357 214,1352 Q224,1349 229,1346 Q236,1341 245,1338 Q256,1335 261,1337 Q265,1345 264,1358 L263,1363 Q252,1365 245,1367 Q222,1375 198,1381 Q187,1382 185.5,1374 Z" fill="url(#shoeG)"/>
<path d="M186,1366 Q200,1362 215,1357 Q230,1352 242,1347" stroke="#8a4018" stroke-width="1.2" fill="none" opacity="0.7"/>
<path d="M189,1373 Q215,1368 245,1360" stroke="#8a4018" stroke-width="1" fill="none" opacity="0.6"/>
<path d="M229,1348 Q244,1340 259,1338 Q261,1343 245,1350 Q236,1353 231,1354 Z" fill="#5e2a10"/>
<path d="M222,1352 Q226,1341 228,1341 Q232,1346 233,1354 Z" fill="#b5642c"/>
<rect x="214" y="1349" width="11" height="3" fill="#b9bcbf" transform="rotate(28 219 1350)"/>
<path d="M245,1367 L263,1362 L263,1368 Q252,1371 246,1371 Z" fill="#5a2a10"/>
<path d="M268,1341 Q272,1334 279,1337 Q287,1346 294,1362 Q303,1382 302,1395 Q300,1405 290,1405 Q280,1404 275,1392 Q268,1375 267,1358 Z" fill="url(#shoeG)"/>
<path d="M270,1350 Q278,1346 285,1356 L289,1365 Q280,1364 271,1368 Z" fill="#5e2a10" opacity="0.9"/>
<path d="M274,1362 Q283,1360 296,1367 L298,1372 Q285,1369 276,1372 Z" fill="#8a3a18"/>
<rect x="276" y="1361" width="17" height="3" fill="#c2c4c6" transform="rotate(4 284 1362)"/>
<path d="M277,1380 Q284,1376 297,1384" stroke="#8a4018" stroke-width="1" fill="none" opacity="0.6"/>

<linearGradient id="shirtG" x1="0" y1="0" x2="1" y2="1">
 <stop offset="0" stop-color="#9dbbe6"/>
 <stop offset="1" stop-color="#b5d0f0"/>
</linearGradient>
<polygon points="133,1448 167,1534 236,1504 233,1497 170,1527 137,1446" fill="#b9b9bb"/>
<polygon points="136,1446 168,1531 170,1531 138,1446" fill="#d9d9db"/>
<polygon points="136.5,1445.5 194,1434.5 235,1497.5 169.5,1530" fill="url(#shirtG)"/>
<polygon points="163,1509 181,1503 189,1521 169.5,1530" fill="#dfeaf8"/>
<path d="M184,1456 L205,1500" stroke="#a3bde3" stroke-width="1.2"/>
<polygon points="206.5,1476 225,1472 234,1496 216,1502" fill="#f6f8fb"/>
<circle cx="217.5" cy="1484" r="1.8" fill="#8a86a8"/>
<circle cx="223.5" cy="1482.5" r="1.8" fill="#8a86a8"/>
<path d="M145,1443 Q146,1430 152,1427 Q170,1424 185,1425 Q191,1426 193,1434 L205,1458 Q195,1456 182,1454 Q170,1462 159,1471 Z" fill="#fcfdfe"/>
<path d="M151,1431 Q168,1428 189,1430 L186,1436 Q168,1436 152,1438 Z" fill="#a7acb8"/>
<path d="M151.5,1438.5 Q170,1433 186,1435 Q185,1447 181,1453 Q165,1448 151.5,1438.5 Z" fill="#747780"/>
<circle cx="187.5" cy="1469" r="2" fill="#eef3fa"/>
<circle cx="199.5" cy="1492" r="2" fill="#eef3fa"/>

<g fill="#3a55a5">
 <path d="M1100,1561 H1127.7 V1570 H1119.5 V1599 H1108.2 V1570 H1100 Z"/>
 <path d="M1129.5,1561 H1158 V1570 H1149.5 V1599 H1138 V1570 H1129.5 Z"/>
 <path d="M1158,1561 H1170.5 L1179.3,1574 L1188,1561 H1200.6 L1186,1580 L1201,1599 H1188 L1179.3,1586 L1170.5,1599 H1158 L1172.5,1580 Z"/>
 <path d="M1235.7,1561 H1246 L1257,1580 V1561 H1267 V1599 H1257 L1246,1580 V1599 H1235.7 Z"/>
</g>
<path d="M1198.8,1561 H1210.5 L1217,1585 L1223.3,1561 H1234.8 L1222,1599 H1211.5 Z" fill="#d8232a"/>
<ellipse cx="1212" cy="1586" rx="23" ry="6" transform="rotate(-20 1212 1586)" fill="none" stroke="#d8232a" stroke-width="1.3"/>
<circle cx="1210.8" cy="1586" r="9" fill="#c8d3ea" stroke="#fff" stroke-width="1"/>
<circle cx="1208.5" cy="1584" r="4.5" fill="#6f85c4" opacity="0.7"/>

<text transform="translate(40.13 56.29) scale(0.9827 1)" font-size="43.73" font-weight="bold" stroke="#000" stroke-width="1.44" stroke-linejoin="round" fill="#000">Kim ngạch xuất khẩu hàng hóa Việt Nam sang Mỹ</text>
<text transform="translate(40.46 115.29) scale(0.9489 1)" font-size="43.73" font-weight="bold" stroke="#000" stroke-width="1.49" stroke-linejoin="round" fill="#000">sẽ vượt mốc 40 tỷ USD</text>
<text transform="translate(39.41 167.5) scale(0.9520 1)" font-size="31.25" fill="#111">Theo dự báo của Bộ Công thương, xuất khẩu hàng hóa của Việt Nam</text>
<text transform="translate(39.4 206) scale(0.9555 1)" font-size="31.25" fill="#111">sang thị trường Mỹ trong năm 2017 sẽ vượt mốc 40 tỷ USD.</text>
<text transform="translate(40.46 322.04) scale(0.9857 1)" font-size="28.18" font-weight="bold" stroke="#000" stroke-width="0.93" stroke-linejoin="round" fill="#000">Xuất khẩu qua các năm</text>
<text transform="translate(355.72 322.5) scale(0.8657 1)" font-size="29.51" font-style="italic" fill="#111">- tỷ USD</text>
<text transform="translate(43.32 373) scale(1.0191 1)" font-size="23.69" fill="#111">40</text>
<text transform="translate(42.54 513.5) scale(1.0653 1)" font-size="23.69" fill="#111">20</text>
<text transform="translate(56.97 653) scale(1.0337 1)" font-size="23.69" fill="#111">0</text>
<text transform="translate(140.3 672.3) scale(0.9746 1)" font-size="24.71" fill="#111">2013</text>
<text transform="translate(308.17 672.3) scale(0.9983 1)" font-size="24.71" fill="#111">2014</text>
<text transform="translate(477.09 672.3) scale(0.9784 1)" font-size="24.71" fill="#111">2015</text>
<text transform="translate(645.06 672.3) scale(1.0030 1)" font-size="24.71" fill="#111">2016</text>
<text transform="translate(813.48 672.3) scale(0.9906 1)" font-size="24.71" fill="#111">2017</text>
<text transform="translate(138.9 458.75) scale(0.9670 1)" font-size="29.22" font-weight="bold" stroke="#000" stroke-width="0.52" stroke-linejoin="round" fill="#000">23,8</text>
<text transform="translate(308.31 424.25) scale(0.9635 1)" font-size="28.92" font-weight="bold" stroke="#000" stroke-width="0.52" stroke-linejoin="round" fill="#000">28,7</text>
<text transform="translate(477.19 389.75) scale(0.9759 1)" font-size="28.63" font-weight="bold" stroke="#000" stroke-width="0.51" stroke-linejoin="round" fill="#000">33,5</text>
<text transform="translate(637.88 355.25) scale(0.9829 1)" font-size="29.07" font-weight="bold" stroke="#000" stroke-width="0.51" stroke-linejoin="round" fill="#000">38,46</text>
<text transform="translate(853.49 343.95) scale(1.0765 1)" font-size="26.89" font-weight="bold" stroke="#000" stroke-width="0.46" stroke-linejoin="round" fill="#000">&gt;40</text>
<text transform="translate(909.07 344) scale(0.9095 1)" font-size="25.58" font-style="italic" fill="#111">(dự báo)</text>
<text transform="translate(863.01 563.95) scale(0.9814 1)" font-size="27.91" font-weight="bold" stroke="#000" stroke-width="0.51" stroke-linejoin="round" fill="#000">12,44</text>
<text transform="translate(861.35 594.5) scale(0.9295 1)" font-size="25.58" font-style="italic" fill="#111">(4 tháng đầu năm)</text>
<text transform="translate(414.44 756.06) scale(1.0498 1)" font-size="26.93" font-weight="bold" stroke="#000" stroke-width="0.83" stroke-linejoin="round" fill="#000">Một số mặt hàng xuất khẩu chính</text>
<text transform="translate(415.34 791.97) scale(1.0788 1)" font-size="26.37" font-weight="bold" stroke="#000" stroke-width="0.79" stroke-linejoin="round" fill="#000">4 tháng đầu năm 2017</text>
<text transform="translate(1025.67 755.38) scale(1.0732 1)" font-size="25.68" font-weight="bold" stroke="#000" stroke-width="0.78" stroke-linejoin="round" fill="#000">% tăng so với</text>
<text transform="translate(1024.46 791.08) scale(1.1376 1)" font-size="25.68" font-weight="bold" stroke="#000" stroke-width="0.73" stroke-linejoin="round" fill="#000">năm 2016</text>
<text transform="translate(410.28 855) scale(0.9746 1)" font-size="24.71" fill="#111">0</text>
<text transform="translate(429.91 855) scale(0.8971 1)" font-size="24.71" font-style="italic" fill="#111">tỷ USD</text>
<text transform="translate(709.84 855.4) scale(0.9250 1)" font-size="25.15" fill="#111">2</text>
<text transform="translate(1009.55 855.4) scale(0.9402 1)" font-size="23.98" fill="#111">4</text>
<text transform="translate(1081.57 858.3) scale(0.9970 1)" font-size="24.56" fill="#111">0</text>
<text transform="translate(1262.64 858.5) scale(0.9188 1)" font-size="25.15" fill="#111">45</text>
<text transform="translate(325.79 924) scale(0.9360 1)" font-size="25.87" fill="#111">Cà phê</text>
<text transform="translate(240.47 1012) scale(1.0111 1)" font-size="25.15" fill="#111">Hàng thủy sản</text>
<text transform="translate(214.51 1084) scale(1.0568 1)" font-size="24.71" fill="#111">Máy móc thiết bị</text>
<text transform="translate(168.96 1116) scale(1.0516 1)" font-size="24.71" fill="#111">dụng cụ và phụ tùng</text>
<text transform="translate(157.58 1171) scale(1.0219 1)" font-size="24.71" fill="#111">Máy vi tính, sản phẩm</text>
<text transform="translate(189.98 1203) scale(1.0336 1)" font-size="24.71" fill="#111">điện tử và linh kiện</text>
<text transform="translate(197.5 1265) scale(1.0256 1)" font-size="24.71" fill="#111">Điện thoại các loại</text>
<text transform="translate(276.5 1297.5) scale(1.0349 1)" font-size="24.71" fill="#111">và linh kiện</text>
<text transform="translate(304.76 1357.5) scale(1.0024 1)" font-size="24.71" fill="#111">Giầy dép</text>
<text transform="translate(320 1390) scale(1.0091 1)" font-size="24.71" fill="#111">các loại</text>
<text transform="translate(244.46 1459) scale(1.0306 1)" font-size="24.71" fill="#111">Hàng dệt may</text>
<text transform="translate(456.62 925.8) scale(0.9137 1)" font-size="28.49" font-weight="bold" stroke="#000" stroke-width="0.44" stroke-linejoin="round" fill="#000">0,21</text>
<text transform="translate(478.14 1015.3) scale(1.0063 1)" font-size="28.49" font-weight="bold" stroke="#000" stroke-width="0.40" stroke-linejoin="round" fill="#000">0,36</text>
<text transform="translate(475.49 1102.2) scale(0.9434 1)" font-size="28.49" font-weight="bold" stroke="#000" stroke-width="0.42" stroke-linejoin="round" fill="#000">0,81</text>
<text transform="translate(479.44 1193.7) scale(1.0082 1)" font-size="28.49" font-weight="bold" stroke="#000" stroke-width="0.40" stroke-linejoin="round" fill="#000">0,82</text>
<text transform="translate(566.09 1282.3) scale(1.0017 1)" font-size="28.49" font-weight="bold" stroke="#000" stroke-width="0.40" stroke-linejoin="round" fill="#000">1,39</text>
<text transform="translate(583.9 1376.8) scale(0.9341 1)" font-size="28.49" font-weight="bold" stroke="#000" stroke-width="0.43" stroke-linejoin="round" fill="#000">1,51</text>
<text transform="translate(896.84 1466) scale(0.9802 1)" font-size="28.49" font-weight="bold" stroke="#000" stroke-width="0.41" stroke-linejoin="round" fill="#000">3,64</text>
<text transform="translate(1204.32 925.5) scale(0.9653 1)" font-size="29.07" font-weight="bold" fill="#fff">42,5</text>
<text transform="translate(968.63 1015.4) scale(1.0182 1)" font-size="28.49" font-weight="bold" stroke="#000" stroke-width="0.39" stroke-linejoin="round" fill="#000">-11,2</text>
<text transform="translate(1146.04 1102.3) scale(0.9846 1)" font-size="29.07" font-weight="bold" fill="#fff">28,5</text>
<text transform="translate(1031.16 1193) scale(0.9784 1)" font-size="28.49" font-weight="bold" stroke="#000" stroke-width="0.41" stroke-linejoin="round" fill="#000">-0,4</text>
<text transform="translate(1012.55 1282) scale(0.9956 1)" font-size="28.49" font-weight="bold" stroke="#000" stroke-width="0.40" stroke-linejoin="round" fill="#000">-4,9</text>
<text transform="translate(1092.21 1376.9) scale(0.9668 1)" font-size="29.07" font-weight="bold" fill="#fff">13,9</text>
<text transform="translate(1122.72 1466.4) scale(0.8643 1)" font-size="28.49" font-weight="bold" stroke="#000" stroke-width="0.46" stroke-linejoin="round" fill="#000">7,1</text>
<text transform="translate(33.81 1572.05) scale(0.9322 1)" font-size="25.44" font-weight="bold" font-style="italic" stroke="#000" stroke-width="0.54" stroke-linejoin="round" fill="#000">Nguồn:</text>
<text transform="translate(120.79 1572.3) scale(0.8190 1)" font-size="26.16" font-style="italic" fill="#111">Tổng cục Hải quan; Bộ Công thương</text>
<text transform="translate(33.84 1623.55) scale(0.8803 1)" font-size="24.42" font-weight="bold" font-style="italic" stroke="#000" stroke-width="0.57" stroke-linejoin="round" fill="#000">http:// infographics.vn</text>
<text transform="translate(1158.17 1609.83) scale(0.9795 1)" font-size="10.41" font-weight="bold" stroke="#d42a2a" stroke-width="0.34" stroke-linejoin="round" fill="#d42a2a">Vietnam News Agency</text>

</svg>
</body></html>
